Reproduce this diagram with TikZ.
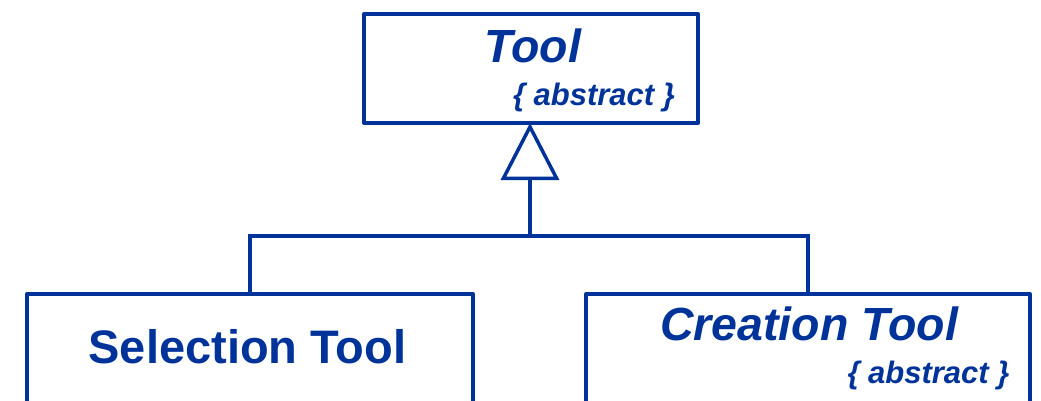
\documentclass[tikz,border=0pt]{standalone}
\usepackage{fontspec}
\setmainfont{Liberation Sans}
\usetikzlibrary{arrows.meta}
\definecolor{umlblue}{RGB}{0,51,153}
\begin{document}
\begin{tikzpicture}[x=1pt,y=-1pt,
  classbox/.style={draw=umlblue,line width=4pt,line join=round,inner sep=0pt,outer sep=0pt},
  bigname/.style={text=umlblue,font=\fontsize{47}{50}\selectfont\bfseries,inner sep=0pt,anchor=base},
  bigitname/.style={bigname,font=\fontsize{46.5}{50}\selectfont\bfseries\itshape},
  abstr/.style={text=umlblue,font=\fontsize{31}{34}\selectfont\bfseries\itshape,inner sep=0pt,anchor=base},
  link/.style={draw=umlblue,line width=3.5pt,line join=miter}]
\useasboundingbox (0,0) rectangle (1041,400);
\clip (0,0) rectangle (1041,400);
\fill[white] (0,0) rectangle (1041,400);
\node[classbox,minimum width=334pt,minimum height=109pt] (tool) at (531,68.5) {};
\node[classbox,minimum width=446pt,minimum height=166pt] (sel) at (250,377) {};
\node[classbox,minimum width=444pt,minimum height=166pt] (cre) at (808,377) {};
\node[bigitname] (tooltxt) at (533,62) {Tool};
\node[abstr] (toolabs) at (594,105) {\{ abstract \}};
\node[bigname] (seltxt) at (247.5,363) {Selection Tool};
\node[bigitname] (cretxt) at (809,340) {Creation Tool};
\node[abstr] (creabs) at (928.5,383) {\{ abstract \}};
\coordinate (junc) at (530,236);
\draw[link,-{Triangle[open,length=57pt,width=58pt,line join=miter]}] (junc) -- (junc |- tool.south);
\draw[link] (sel.north) |- (junc) -| (cre.north);
\end{tikzpicture}
\end{document}
